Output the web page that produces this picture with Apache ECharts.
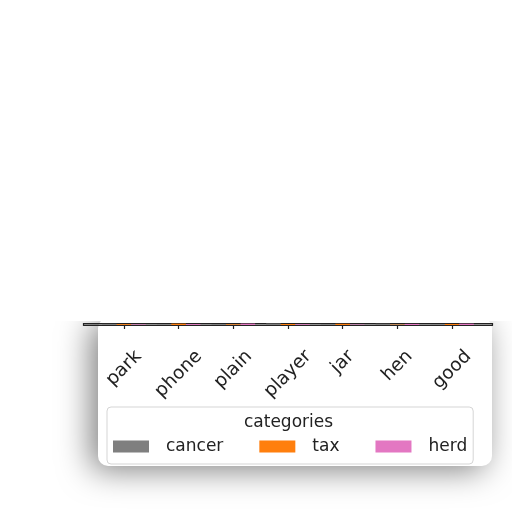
<!DOCTYPE html>
<html>
<head>
<meta charset="utf-8">
<script src="https://cdn.jsdelivr.net/npm/echarts@6/dist/echarts.min.js"></script>
<style>
  html, body { margin: 0; padding: 0; background: #fff; }
  #chart { width: 512px; height: 512px; }
</style>
</head>
<body>
<div id="chart"></div>
<script>
const categories = ['park', 'phone', 'plain', 'player', 'jar', 'hen', 'good']
const seriesNames = ['cancer', 'tax', 'herd']
const cancerValues = [31, 18, 26, 40, 22, 34, 15]
const taxValues = [24, 37, 19, 28, 33, 12, 29]
const herdValues = [17, 25, 38, 21, 14, 30, 36]
const colors = ['#7f7f7f', '#ff7f0e', '#e377c2']

const FONT = 'DejaVu Sans'
const TEXT = '#222'
const LABEL_SIZE = 18.5

// label widths, so the rotated labels all start at the same height (like matplotlib ha=center)
const ctx = document.createElement('canvas').getContext('2d')
ctx.font = LABEL_SIZE + 'px "' + FONT + '"'
const widths = categories.map(c => ctx.measureText(c).width)
const minW = Math.min(...widths)
const rich = {}
categories.forEach((c, i) => {
  const p = (widths[i] - minW) / 2
  rich['c' + i] = { padding: [p, p, 0, 0], fontSize: LABEL_SIZE, fontFamily: FONT, color: TEXT }
})

const chart = echarts.init(document.getElementById('chart'))

const seriesValues = [cancerValues, taxValues, herdValues]
const series = seriesNames.map((name, s) => ({
  name,
  type: 'bar',
  barWidth: '26.6%',
  barGap: '0%',
  itemStyle: { color: colors[s] },
  data: seriesValues[s].map((v, i) => [i, v]),
}))

const ticks = categories.map((c, i) => i)

chart.setOption({
  animation: false,
  grid: {
    left: 83.5,
    right: 19.5,
    top: 323.5,
    height: 1.5,
    show: true,
    borderColor: TEXT,
    borderWidth: 1.2,
    backgroundColor: 'transparent',
    outerBoundsMode: 'none',
  },
  xAxis: {
    type: 'value',
    min: -0.74,
    max: 6.74,
    splitLine: { show: false },
    axisLine: { show: true, lineStyle: { color: TEXT, width: 1.2 } },
    axisTick: { show: true, customValues: ticks, length: 4, lineStyle: { color: TEXT, width: 1.2 } },
    axisLabel: {
      customValues: ticks,
      rotate: 45,
      align: 'center',
      verticalAlign: 'middle',
      margin: 347 - 325 + (minW + LABEL_SIZE) / (2 * Math.SQRT2),
      fontSize: LABEL_SIZE,
      fontFamily: FONT,
      color: TEXT,
      formatter: v => {
        const i = Math.round(v)
        return '{c' + i + '|' + categories[i] + '}'
      },
      rich,
    },
  },
  yAxis: {
    type: 'value',
    min: 0,
    max: 42,
    show: false,
  },
  legend: {
    data: seriesNames,
    left: 107,
    top: 407,
    padding: [31, 6, 9, 6],
    itemWidth: 36,
    itemHeight: 12,
    itemGap: 36,
    icon: 'rect',
    selectedMode: false,
    borderColor: '#d5d5d5',
    borderWidth: 1,
    borderRadius: 4,
    backgroundColor: '#fff',
    textStyle: { fontSize: 17, fontFamily: FONT, color: TEXT, padding: [0, 0, 0, 12] },
  },
  graphic: {
    elements: [
      {
        // white card with soft shadow behind the axes
        type: 'rect',
        z: -20,
        shape: { x: 98, y: 318, width: 394, height: 148, r: 10 },
        style: { fill: '#fff', shadowBlur: 32, shadowColor: 'rgba(0,0,0,0.5)', shadowOffsetX: -7, shadowOffsetY: 4 },
      },
      {
        type: 'rect',
        z: -10,
        shape: { x: 0, y: 0, width: 512, height: 321 },
        style: { fill: '#fff' },
      },
      {
        type: 'text',
        z: 10,
        x: 288.5,
        y: 423,
        style: { text: 'categories', fontSize: 17, fontFamily: FONT, fill: TEXT, align: 'center', verticalAlign: 'middle' },
      },
    ],
  },
  series,
})
</script>
</body>
</html>
